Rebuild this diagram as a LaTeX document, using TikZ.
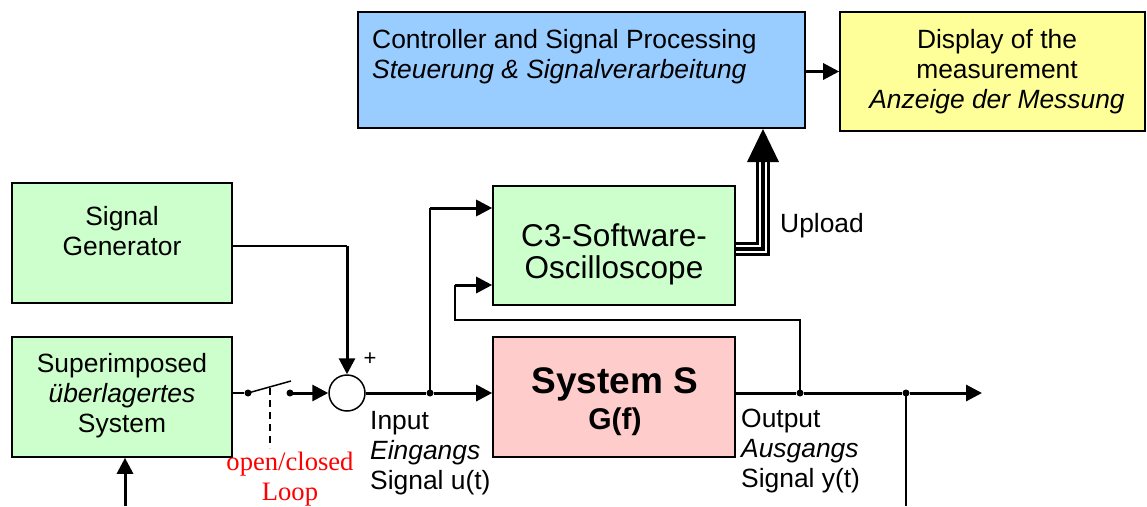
\documentclass[tikz,border=0pt]{standalone}
\usepackage{fontspec}
\setmainfont{Liberation Sans}
\newfontfamily\loopfont{Liberation Serif}
\usetikzlibrary{arrows.meta}

\definecolor{ctrlblue}{HTML}{99CCFF}
\definecolor{dispyellow}{HTML}{FFFF99}
\definecolor{blkgreen}{HTML}{CCFFCC}
\definecolor{syspink}{HTML}{FFCCCC}

\begin{document}
\begin{tikzpicture}[x=1pt, y=-1pt,
    box/.style={draw, line width=1.6pt, inner sep=0pt},
    txt/.style={font=\fontsize{26.4}{30}\selectfont, inner sep=0pt},
    sigline/.style={line width=1.5pt},
    busline/.style={line width=3pt},
    arr/.style={-{Triangle[length=16pt, width=16pt]}},
    junction/.style={circle, fill, inner sep=0pt, minimum size=7pt}]
    \useasboundingbox (0,0) rectangle (1147,506);

    % Define the blocks
    \node[box, fill=ctrlblue, minimum width=447, minimum height=116] (ctrl) at (581.5,70) {};
    \node[box, fill=dispyellow, minimum width=305, minimum height=119] (disp) at (992.5,71.5) {};
    \node[box, fill=blkgreen, minimum width=220, minimum height=120] (gen) at (122,243) {};
    \node[box, fill=blkgreen, minimum width=220, minimum height=120] (super) at (122,397) {};
    \node[box, fill=blkgreen, minimum width=242, minimum height=119] (osc) at (614,245.5) {};
    \node[box, fill=syspink, minimum width=242, minimum height=120] (sys) at (614,397) {};
    \node[draw, circle, line width=1.5pt, fill=white, minimum size=36pt, inner sep=0pt] (sum) at (347,393) {};

    % Texts of the blocks
    \node[txt, align=left, anchor=west] (ctrltxt) at (372,57) {Controller and Signal Processing\\\textit{Steuerung \& Signalverarbeitung}};
    \node[txt, align=center] (disptxt) at (997,72) {Display of the\\measurement\\\textit{Anzeige der Messung}};
    \node[txt, align=center] (gentxt) at (122,231.5) {Signal\\Generator};
    \node[txt, align=center] (supertxt) at (122,396) {Superimposed\\\textit{überlagertes}\\System};
    \node[txt, align=center, font=\fontsize{31.5}{32}\selectfont] (osctxt) at (614,254) {C3-Software-\\Oscilloscope};
    \node[inner sep=0pt, font=\fontsize{37}{40}\selectfont\bfseries] (systxt) at (615,384) {System S};
    \node[inner sep=0pt, font=\fontsize{30}{32}\selectfont\bfseries] (gftxt) at (615,422) {G(f)};

    % Switch of the loop
    \node[junction] (swa) at (248,393) {};
    \node[junction] (swb) at (290,393) {};
    \coordinate (blade) at (291,381);
    \coordinate (levtop) at (270,388);
    \coordinate (levbot) at (270,448);
    \draw[sigline] (super.east |- swa) -- (swa);
    \draw[sigline] (swa.center) -- (blade);
    \draw[sigline, dash pattern=on 7pt off 5pt] (levtop) -- (levbot);
    \draw[busline, arr] (swb.center) -- (sum.west);
    \node[inner sep=0pt, text=red, font=\loopfont\fontsize{26.6}{30}\selectfont, align=center] (looptxt) at (290,479) {open/closed\\Loop};

    % Generator into the summing point
    \coordinate (gencorner) at (347,246);
    \draw[sigline] (gen.east |- gencorner) -- (gencorner);
    \draw[busline, arr] (gencorner) -- (sum.north);
    \node[inner sep=0pt, font=\fontsize{22}{24}\selectfont] (plus) at (370,359) {+};

    % Input signal
    \node[junction] (injn) at (430,393) {};
    \coordinate (inup) at (430,208);
    \draw[busline] (sum.east) -- (injn);
    \draw[busline, arr] (injn) -- (sys.west |- injn);
    \draw[line width=2.2pt] (injn.center) -- (inup);
    \draw[busline, arr] (inup) -- (osc.west |- inup);
    \node[txt, align=left, anchor=west] (intxt) at (370,453) {Input\\\textit{Eingangs}\\Signal u(t)};

    % Output signal
    \node[junction] (fbjn) at (800,393) {};
    \node[junction] (outjn) at (906,393) {};
    \coordinate (outend) at (982,393);
    \coordinate (fbtop) at (800,320);
    \coordinate (fbleft) at (455,320);
    \coordinate (fbin) at (455,285);
    \coordinate (outdown) at (906,506);
    \draw[busline] (sys.east |- fbjn) -- (fbjn) -- (outjn);
    \draw[busline, arr] (outjn) -- (outend);
    \draw[sigline] (fbjn.center) -- (fbtop) -- (fbleft) -- (fbin);
    \draw[busline, arr] (fbin) -- (osc.west |- fbin);
    \draw[sigline] (outjn.center) -- (outdown);
    \node[txt, align=left, anchor=west] (outtxt) at (741,451) {Output\\\textit{Ausgangs}\\Signal y(t)};

    % Feed into the superimposed system
    \coordinate (supin) at (125,506);
    \draw[busline, arr] (supin) -- (super.south -| supin);

    % Upload bus to the controller
    \coordinate (uptip) at (763,129);
    \foreach \dy/\ux in {243.5/757.5, 249/763, 254.5/768.5}
        \draw[line width=3.5pt] (osc.east |- 0,\dy) -- (\ux,\dy) -- (\ux,160);
    \fill (747,162) -- (uptip) -- (779,162) -- cycle;
    \node[txt, anchor=west] (uptxt) at (780,226) {Upload};

    % Controller to the display
    \draw[busline, arr] (ctrl.east |- disp.west) -- (disp.west);
\end{tikzpicture}
\end{document}
